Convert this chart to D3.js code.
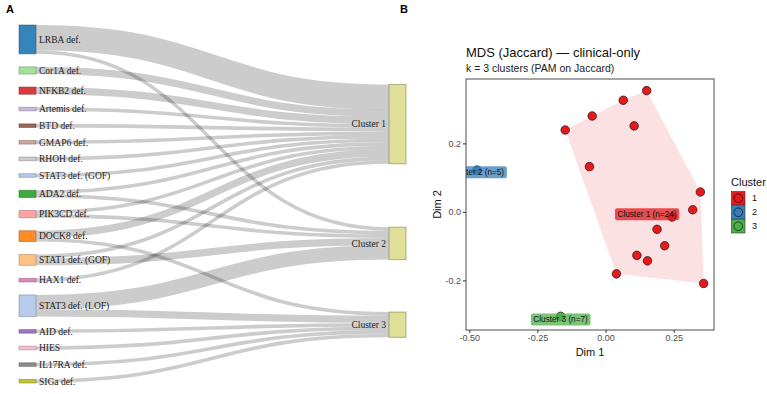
<!DOCTYPE html>
<html><head><meta charset="utf-8">
<script src="https://cdn.jsdelivr.net/npm/d3@7"></script>
<style>body{margin:0;background:#fff}</style>
</head><body>
<svg id="c" width="767" height="394" xmlns="http://www.w3.org/2000/svg"></svg>
<script>
// ---------- DATA: Sankey (panel A) ----------
const sources = ["LRBA def.","Cor1A def.","NFKB2 def.","Artemis def.","BTD def.","GMAP6 def.","RHOH def.",
  "STAT3 def. (GOF)","ADA2 def.","PIK3CD def.","DOCK8 def.","STAT1 def. (GOF)","HAX1 def.","STAT3 def. (LOF)",
  "AID def.","HIES","IL17RA def.","SIGa def."];
const sourceColors = ["#1f77b4","#98df8a","#d62728","#c5b0d5","#8c564b","#c49c94","#c7c7c7","#aec7e8","#2ca02c",
  "#ff9896","#ff7f0e","#ffbb78","#e377c2","#aec7e8","#9467bd","#f7b6d2","#7f7f7f","#bcbd22"];
const clusterNames = ["Cluster 1","Cluster 2","Cluster 3"];
const clusterColor = "#dbdb8d";
const toCluster1 = [7,2,2,1,1,1,1,1,1,1,2,1,1,0,0,0,0,0];
const toCluster2 = [1,0,0,0,0,0,0,0,1,1,0,2,0,4,0,0,0,0];
const toCluster3 = [0,0,0,0,0,0,0,0,0,0,1,0,0,2,1,1,1,1];

// ---------- DATA: MDS (panel B) ----------
const c1x = [-0.148,-0.049,0.065,0.151,0.105,-0.059,0.348,0.320,0.244,0.189,0.217,0.115,0.154,0.040,0.360];
const c1y = [0.239,0.280,0.326,0.354,0.251,0.132,0.058,0.006,-0.015,-0.051,-0.099,-0.127,-0.143,-0.181,-0.209];
const c2x = [-0.472]; const c2y = [0.122];
const c3x = [-0.165]; const c3y = [-0.305];
const clusterLabels = ["Cluster 1 (n=24)","Cluster 2 (n=5)","Cluster 3 (n=7)"];
const labelX = [0.152,-0.472,-0.165];
const labelY = [-0.006,0.117,-0.313];
const clusterFill = ["#E41A1C","#377EB8","#4DAF4A"];
const xTicks = [-0.5,-0.25,0,0.25];
const yTicks = [-0.2,0,0.2];

const svg = d3.select("#c");

// ---------- Panel A: manual sankey layout ----------
const flows = [toCluster1,toCluster2,toCluster3];
const srcVal = sources.map((s,i)=>d3.sum(flows,f=>f[i]));
const total = d3.sum(srcVal);
const yTop = 25, yBottom = 383, pad = 13;
const ky = d3.scaleLinear().domain([0,total]).range([0, (yBottom-yTop) - pad*(sources.length-1)]);
const leftX0 = 19, nodeW = 17, rightX0 = 389;
let yy = yTop;
const srcNodes = sources.map((name,i)=>{
  const h = ky(srcVal[i]);
  const n = {name, i, x0:leftX0, x1:leftX0+nodeW, y0:yy, y1:yy+h, color:sourceColors[i]};
  yy += h + pad; return n;
});
const tgtNodes = clusterNames.map((name,j)=>{
  const v = d3.sum(flows[j]);
  const h = ky(v);
  const c = d3.sum(flows[j].map((f,i)=>f*(srcNodes[i].y0+srcNodes[i].y1)/2))/v;
  return {name, j, x0:rightX0, x1:rightX0+nodeW, y0:c-h/2, y1:c+h/2};
});
for (let j=1;j<tgtNodes.length;j++){
  const p = tgtNodes[j-1], n = tgtNodes[j];
  if (n.y0 < p.y1 + pad){ const d = p.y1+pad-n.y0; n.y0+=d; n.y1+=d; }
}
const links = [];
srcNodes.forEach((s,i)=>{
  let sy = s.y0;
  flows.forEach((f,j)=>{ if (f[i]>0){ const w = ky(f[i]); links.push({s, t:tgtNodes[j], w, sy:sy+w/2}); sy += w; } });
});
tgtNodes.forEach(t=>{
  let ty = t.y0;
  links.filter(l=>l.t===t).sort((a,b)=>a.s.y0-b.s.y0).forEach(l=>{ l.ty = ty + l.w/2; ty += l.w; });
});
const gA = svg.append("g");
gA.append("g").selectAll("path").data(links).join("path")
  .attr("d", l=>{ const x0=l.s.x1, x1=l.t.x0, xm=(x0+x1)/2;
    return `M${x0},${l.sy}C${xm},${l.sy} ${xm},${l.ty} ${x1},${l.ty}`; })
  .attr("fill","none").attr("stroke","#000").attr("stroke-opacity",0.2)
  .attr("stroke-width", l=>Math.max(1,l.w));
const nodeG = gA.append("g");
nodeG.selectAll("rect.s").data(srcNodes).join("rect")
  .attr("x",d=>d.x0).attr("y",d=>d.y0).attr("width",nodeW).attr("height",d=>Math.max(1,d.y1-d.y0))
  .attr("fill",d=>d.color).attr("fill-opacity",0.9)
  .attr("stroke",d=>d3.rgb(d.color).darker(1.5)).attr("stroke-opacity",0.45).attr("stroke-width",1);
nodeG.selectAll("rect.t").data(tgtNodes).join("rect")
  .attr("x",d=>d.x0).attr("y",d=>d.y0).attr("width",nodeW).attr("height",d=>d.y1-d.y0)
  .attr("fill",clusterColor).attr("fill-opacity",0.9)
  .attr("stroke",d3.rgb(clusterColor).darker(1.5)).attr("stroke-opacity",0.6).attr("stroke-width",1);
nodeG.selectAll("text.s").data(srcNodes).join("text")
  .attr("x",d=>d.x1+3).attr("y",d=>(d.y0+d.y1)/2).attr("dy","0.35em")
  .attr("font-family","Liberation Serif, Times New Roman, serif").attr("font-size",9.5).attr("fill","#222")
  .text(d=>d.name);
nodeG.selectAll("text.t").data(tgtNodes).join("text")
  .attr("x",d=>d.x0-3).attr("y",d=>(d.y0+d.y1)/2).attr("dy","0.35em").attr("text-anchor","end")
  .attr("font-family","Liberation Serif, Times New Roman, serif").attr("font-size",9.5).attr("fill","#222")
  .text(d=>d.name);

svg.append("text").attr("x",6).attr("y",13).attr("font-family","Liberation Sans, Arial, sans-serif")
  .attr("font-weight","bold").attr("font-size",11).text("A");
svg.append("text").attr("x",400).attr("y",13).attr("font-family","Liberation Sans, Arial, sans-serif")
  .attr("font-weight","bold").attr("font-size",11).text("B");

// ---------- Panel B: MDS ----------
const P = {l:466, r:714, t:79, b:330};
const x = d3.scaleLinear().domain([-0.512,0.398]).range([P.l,P.r]);
const y = d3.scaleLinear().domain([-0.345,0.388]).range([P.b,P.t]);
const sans = "Liberation Sans, Arial, sans-serif";
svg.append("defs").append("clipPath").attr("id","panel").append("rect")
  .attr("x",P.l).attr("y",P.t).attr("width",P.r-P.l).attr("height",P.b-P.t);
const gB = svg.append("g").attr("clip-path","url(#panel)");
const pts1 = c1x.map((v,i)=>[x(v),y(c1y[i])]);
const hull = d3.polygonHull(pts1);
gB.append("path").attr("d","M"+hull.join("L")+"Z").attr("fill",clusterFill[0]).attr("fill-opacity",0.13);
const allPts = [
  ...c2x.map((v,i)=>({x:v,y:c2y[i],k:1})),
  ...c3x.map((v,i)=>({x:v,y:c3y[i],k:2})),
  ...c1x.map((v,i)=>({x:v,y:c1y[i],k:0}))];
gB.selectAll("circle").data(allPts).join("circle")
  .attr("cx",d=>x(d.x)).attr("cy",d=>y(d.y)).attr("r",4.3)
  .attr("fill",d=>clusterFill[d.k]).attr("stroke","#000").attr("stroke-width",0.6);
clusterLabels.forEach((lab,k)=>{
  const g = gB.append("g");
  const t = g.append("text").attr("x",x(labelX[k])).attr("y",y(labelY[k])).attr("dy","0.35em")
    .attr("text-anchor","middle").attr("font-family",sans).attr("font-size",8.2).attr("fill","#111").text(lab);
  const bb = t.node().getBBox();
  g.insert("rect","text").attr("x",bb.x-2.5).attr("y",bb.y-1.5).attr("width",bb.width+5).attr("height",bb.height+3)
    .attr("rx",2).attr("fill",clusterFill[k]).attr("fill-opacity",0.75);
});
svg.append("rect").attr("x",P.l).attr("y",P.t).attr("width",P.r-P.l).attr("height",P.b-P.t)
  .attr("fill","none").attr("stroke","#4d4d4d").attr("stroke-width",1);
const ax = svg.append("g").attr("transform",`translate(0,${P.b})`)
  .call(d3.axisBottom(x).tickValues(xTicks).tickFormat(d3.format(".2f")).tickSize(3).tickPadding(2));
const ay = svg.append("g").attr("transform",`translate(${P.l},0)`)
  .call(d3.axisLeft(y).tickValues(yTicks).tickFormat(d3.format(".1f")).tickSize(3).tickPadding(2));
[ax,ay].forEach(a=>{ a.select(".domain").remove();
  a.selectAll(".tick line").attr("stroke","#333");
  a.selectAll(".tick text").attr("fill","#4d4d4d").attr("font-family",sans).attr("font-size",9); });
ax.selectAll(".tick text").text(d=>d3.format(".2f")(d).replace("\u2212","-"));
ay.selectAll(".tick text").text(d=>d3.format(".1f")(d).replace("\u2212","-"));
svg.append("text").attr("x",(P.l+P.r)/2).attr("y",356).attr("text-anchor","middle")
  .attr("font-family",sans).attr("font-size",11).attr("fill","#111").text("Dim 1");
svg.append("text").attr("transform",`translate(441,${(P.t+P.b)/2}) rotate(-90)`).attr("text-anchor","middle")
  .attr("font-family",sans).attr("font-size",11).attr("fill","#111").text("Dim 2");
svg.append("text").attr("x",P.l).attr("y",57).attr("font-family",sans).attr("font-size",13).attr("fill","#111")
  .text("MDS (Jaccard) — clinical-only");
svg.append("text").attr("x",P.l).attr("y",72).attr("font-family",sans).attr("font-size",10.5).attr("fill","#222")
  .text("k = 3 clusters (PAM on Jaccard)");
const lg = svg.append("g").attr("transform","translate(731,0)");
lg.append("text").attr("x",0).attr("y",186).attr("font-family",sans).attr("font-size",11).attr("fill","#111").text("Cluster");
["1","2","3"].forEach((lab,k)=>{
  const yk = 191.5 + k*14;
  lg.append("rect").attr("x",0.5).attr("y",yk).attr("width",13.5).attr("height",13.5)
    .attr("fill",clusterFill[k]).attr("stroke","#333").attr("stroke-width",0.6);
  lg.append("circle").attr("cx",7.25).attr("cy",yk+6.75).attr("r",4.3)
    .attr("fill",clusterFill[k]).attr("stroke","#000").attr("stroke-width",0.6);
  lg.append("text").attr("x",21).attr("y",yk+6.75).attr("dy","0.35em").attr("font-family",sans)
    .attr("font-size",9).attr("fill","#111").text(lab);
});
</script>
</body></html>
